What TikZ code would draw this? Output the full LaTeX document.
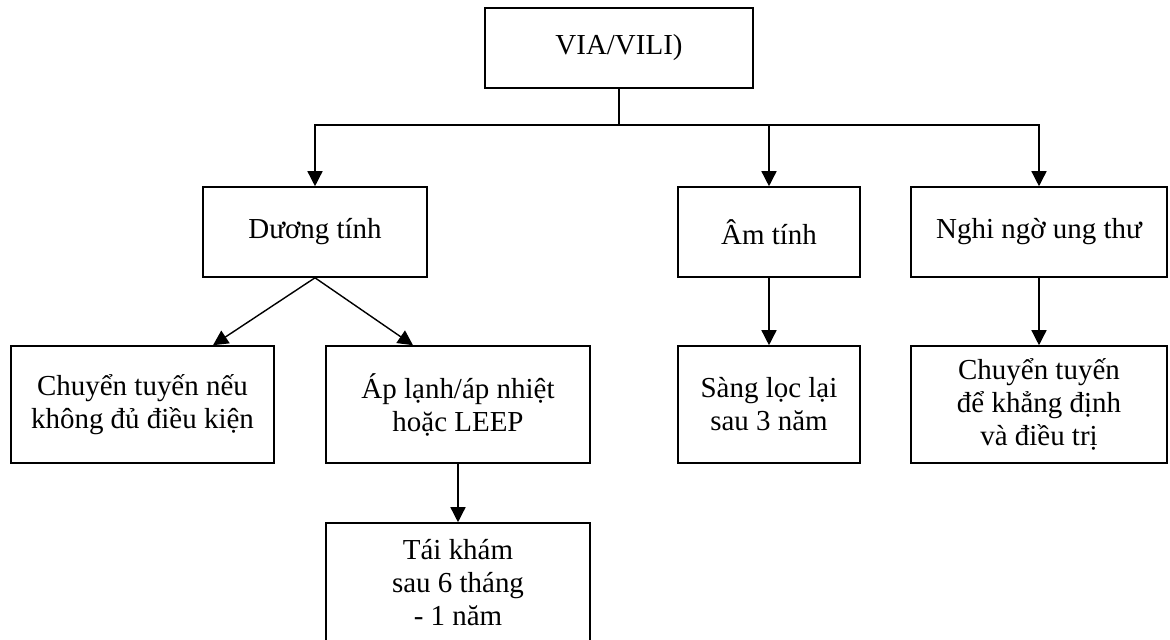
\documentclass[tikz,border=0pt]{standalone}
\usepackage{fontspec}
\setmainfont{Liberation Serif}
\usetikzlibrary{arrows.meta,positioning,calc}

\begin{document}
\begin{tikzpicture}[x=0.025cm, y=-0.025cm,
  box/.style={draw, line width=1.1pt, align=center, inner sep=0pt,
    font=\fontsize{20.6}{23.5}\selectfont},
  arr/.style={line width=1pt, -{Triangle[length=0.375cm, width=0.375cm]}}]
  \useasboundingbox (0,0) rectangle (1170,639);
  % top and first row
  \node[box, minimum width=6.7cm, minimum height=2cm] (via) at (619,48) {VIA/VILI)};
  \node[box, minimum width=5.6cm, minimum height=2.25cm] (duong) at (315,232) {Dương tính};
  \node[box, minimum width=4.55cm, minimum height=2.25cm] (am) at (769,232) {Âm tính};
  \node[box, minimum width=6.4cm, minimum height=2.25cm] (nghi) at (1039,232) {Nghi ngờ ung thư};
  % second row
  \node[box, minimum width=6.575cm, minimum height=2.925cm] (chuyen) at (142.5,404.5) {Chuyển tuyến nếu\\không đủ điều kiện};
  \node[box, minimum width=6.6cm, minimum height=2.925cm] (aplanh) at (458,404.5) {Áp lạnh/áp nhiệt\\hoặc LEEP};
  \node[box, minimum width=4.55cm, minimum height=2.925cm] (sangloc) at (769,404.5) {Sàng lọc lại\\sau 3 năm};
  \node[box, minimum width=6.4cm, minimum height=2.925cm] (khangdinh) at (1039,404.5) {Chuyển tuyến\\để khẳng định\\và điều trị};
  \node[box, minimum width=6.6cm, minimum height=3cm] (taikham) at (458,583) {Tái khám\\sau 6 tháng\\- 1 năm};
  % connectors
  \coordinate (split) at (619,125);
  \draw[line width=1pt] (via.south) -- (split);
  \draw[arr] (split) -| (duong.north);
  \draw[arr] (split) -| (am.north);
  \draw[arr] (split) -| (nghi.north);
  \draw[arr] (duong.south) -- ($(chuyen.north)+(70.5,0)$);
  \draw[arr] (duong.south) -- ($(aplanh.north)+(-45,0)$);
  \draw[arr] (am.south) -- (sangloc.north);
  \draw[arr] (nghi.south) -- (khangdinh.north);
  \draw[arr] (aplanh.south) -- (taikham.north);
\end{tikzpicture}
\end{document}
